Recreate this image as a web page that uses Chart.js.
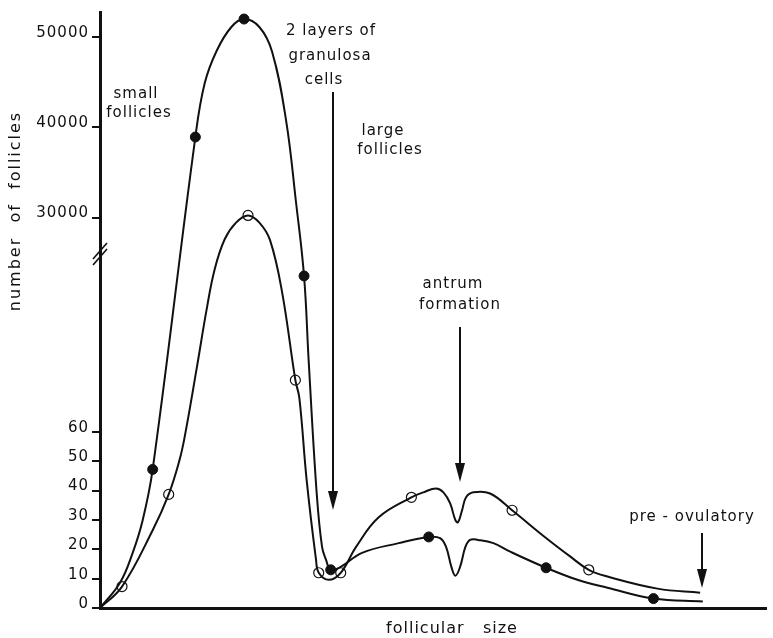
<!DOCTYPE html>
<html>
<head>
<meta charset="utf-8">
<title>Follicle counts by follicular size</title>
<script src="https://cdn.jsdelivr.net/npm/chart.js@4.4.0/dist/chart.umd.min.js"></script>
<style>
  html, body { margin: 0; padding: 0; background: #fff; }
  #wrap { width: 773px; height: 638px; position: relative; }
</style>
</head>
<body>
<div id="wrap"><canvas id="chart"></canvas></div>
<script>
// follicular size is in arbitrary units (0-100), counts are number of follicles
const filledSize  = [0, 3.0, 4.9, 6.4, 7.9, 14.3, 15.7, 17.5, 19.7, 21.6, 23.9, 25.8, 27.9, 29.4, 30.6, 31.3, 32.5, 33.3, 33.9, 34.6, 36.1, 39.3, 44.8, 49.3, 51.0, 51.9, 52.7, 53.3, 54.0, 54.8, 55.5, 56.7, 59.0, 61.6, 66.9, 71.6, 76.1, 83.0, 90.4];
const filledCount = [0, 8.6, 18.8, 29.9, 47.2, 38900, 44840, 48440, 51070, 51950, 51070, 48350, 40780, 31660, 21840, 9900, 39.0, 20.8, 16.4, 13.0, 14.0, 18.8, 22.1, 24.2, 23.8, 20.8, 14.0, 11.0, 14.0, 20.8, 23.2, 23.2, 22.1, 19.1, 13.7, 9.6, 6.9, 3.2, 2.2];

const openSize  = [0, 3.3, 7.9, 10.3, 11.9, 12.7, 14.5, 16.0, 17.2, 18.7, 20.4, 22.2, 23.9, 25.5, 27.3, 29.3, 29.9, 31.0, 32.4, 32.8, 34.3, 36.1, 38.4, 41.8, 46.7, 48.5, 50.4, 51.5, 52.5, 53.3, 53.7, 54.3, 54.9, 56.0, 58.5, 61.8, 66.7, 70.6, 73.3, 76.1, 83.6, 90.0];
const openCount = [0, 7.3, 26.5, 38.7, 50.2, 58.3, 8920, 17200, 22780, 26960, 29290, 30230, 29290, 26840, 19620, 7280, 4780, 43.4, 16.4, 12.0, 9.6, 12.0, 20.8, 30.9, 37.7, 39.4, 40.7, 39.4, 35.7, 29.9, 29.2, 33.3, 37.7, 39.4, 39.0, 33.3, 24.2, 17.4, 13.0, 10.7, 6.6, 5.2];

// measured points (drawn as circles)
const filledMarkSize  = [7.9, 14.3, 21.6, 30.6, 34.6, 49.3, 66.9, 83.0];
const filledMarkCount = [47.2, 38900, 51950, 21840, 13.0, 24.2, 13.7, 3.2];
const openMarkSize  = [3.3, 10.3, 22.2, 29.3, 32.8, 36.1, 46.7, 61.8, 73.3];
const openMarkCount = [7.3, 38.7, 30230, 7280, 12.0, 12.0, 37.7, 33.3, 13.0];

const yTicks = [0, 10, 20, 30, 40, 50, 60, 30000, 40000, 50000];

// broken y axis: count -> axis units, piecewise linear
const axisBreaks = [[0, 0], [60, 60], [30000, 133], [50000, 194.6]];

function toAxis(v) {
  let i = 0;
  while (i < axisBreaks.length - 2 && v > axisBreaks[i + 1][0]) i++;
  const [v0, a0] = axisBreaks[i], [v1, a1] = axisBreaks[i + 1];
  return a0 + (v - v0) * (a1 - a0) / (v1 - v0);
}

const pts = (xs, ys) => xs.map((x, i) => ({ x, y: toAxis(ys[i]) }));

const INK = '#111';
const FONT = '"DejaVu Sans", sans-serif';

const notes = [
  ['small', 136, 94], ['follicles', 139, 113],
  ['2 layers of', 331, 31], ['granulosa', 330, 56], ['cells', 324, 80],
  ['large', 383, 131], ['follicles', 390, 150],
  ['antrum', 453, 284], ['formation', 460, 305],
  ['pre - ovulatory', 692, 517]
];
const arrows = [[333, 92, 510], [460, 327, 482], [702, 533, 588]];

const annotations = {
  id: 'annotations',
  beforeDraw(chart) {
    chart.ctx.letterSpacing = '1px';
  },
  afterDraw(chart) {
    const ctx = chart.ctx;
    ctx.save();
    ctx.fillStyle = INK;
    ctx.strokeStyle = INK;
    ctx.letterSpacing = '1px';
    ctx.font = '15px ' + FONT;
    ctx.textAlign = 'center';
    ctx.textBaseline = 'middle';
    notes.forEach(([t, x, y]) => ctx.fillText(t, x, y));

    // axis titles
    ctx.font = '16px ' + FONT;
    ctx.fillText('follicular   size', 452, 629);
    ctx.save();
    ctx.translate(16, 211);
    ctx.rotate(-Math.PI / 2);
    ctx.letterSpacing = '2px';
    ctx.fillText('number  of  follicles', 0, 0);
    ctx.restore();

    // arrows
    ctx.lineWidth = 2;
    arrows.forEach(([x, top, tip]) => {
      ctx.beginPath();
      ctx.moveTo(x, top);
      ctx.lineTo(x, tip - 10);
      ctx.stroke();
      ctx.beginPath();
      ctx.moveTo(x - 5, tip - 19);
      ctx.lineTo(x + 5, tip - 19);
      ctx.lineTo(x, tip);
      ctx.closePath();
      ctx.fill();
    });

    // axis break marks
    ctx.lineWidth = 1.6;
    [0, 6].forEach(dy => {
      ctx.beginPath();
      ctx.moveTo(93, 259 + dy);
      ctx.lineTo(107, 243 + dy);
      ctx.stroke();
    });
    ctx.restore();
  }
};

new Chart(document.getElementById('chart'), {
  type: 'line',
  data: {
    datasets: [
      {
        label: 'filled points',
        data: pts(filledMarkSize, filledMarkCount),
        showLine: false,
        pointRadius: 5,
        pointBackgroundColor: INK,
        pointBorderColor: INK
      },
      {
        label: 'open points',
        data: pts(openMarkSize, openMarkCount),
        showLine: false,
        pointRadius: 5,
        pointBackgroundColor: 'rgba(0,0,0,0)',
        pointBorderColor: INK,
        pointBorderWidth: 1.2
      },
      {
        label: 'filled curve',
        data: pts(filledSize, filledCount),
        borderColor: INK,
        borderWidth: 2,
        pointRadius: 0,
        tension: 0.4
      },
      {
        label: 'open curve',
        data: pts(openSize, openCount),
        borderColor: INK,
        borderWidth: 2,
        pointRadius: 0,
        tension: 0.4
      }
    ]
  },
  options: {
    responsive: true,
    maintainAspectRatio: false,
    animation: false,
    layout: { padding: { top: 8, right: 3, left: 0, bottom: 0 } },
    plugins: { legend: { display: false }, tooltip: { enabled: false } },
    scales: {
      x: {
        type: 'linear',
        min: 0,
        max: 100,
        ticks: { display: false },
        grid: { display: false },
        border: { display: true, color: INK, width: 3 },
        afterFit: s => { s.height = 30; }
      },
      y: {
        type: 'linear',
        min: 0,
        max: 203,
        afterBuildTicks: s => { s.ticks = yTicks.map(v => ({ value: toAxis(v) })); },
        afterFit: s => { s.width = 100; },
        ticks: {
          autoSkip: false,
          padding: 3,
          labelOffset: -4,
          color: INK,
          font: { family: FONT, size: 15 },
          callback: (val, i) => String(yTicks[i])
        },
        grid: { drawOnChartArea: false, drawTicks: true, tickLength: 8, color: INK, lineWidth: 2 },
        border: { display: true, color: INK, width: 3 }
      }
    }
  },
  plugins: [annotations]
});
</script>
</body>
</html>
